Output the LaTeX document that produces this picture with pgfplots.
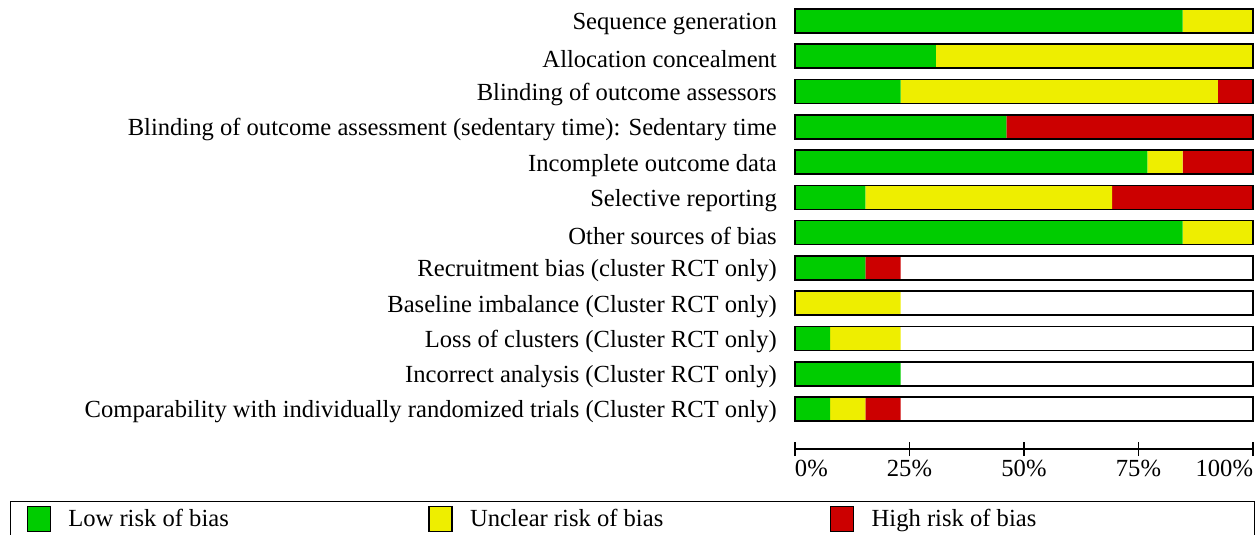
\documentclass[border=0pt]{standalone}
\usepackage{fontspec}
\setmainfont{Liberation Serif}
\usepackage{pgfplots}
\pgfplotsset{compat=1.18}
\definecolor{lowc}{HTML}{00CC00}
\definecolor{uncc}{HTML}{EEEE00}
\definecolor{highc}{HTML}{CC0000}
\newcommand{\lf}{\fontsize{24.6}{28}\selectfont}
\begin{document}
\begin{tikzpicture}
\path[use as bounding box] (-795pt,-86pt) rectangle (463pt,449pt);
\begin{axis}[
  at={(0pt,0pt)}, anchor=south west,
  x=4.58pt, y=35.27pt,
  xmin=0, xmax=100, ymin=-0.134, ymax=12.595,
  xbar stacked, bar width=24pt,
  axis x line=bottom, axis y line=left,
  axis line style={-},
  x axis line style={line width=1.3pt},
  y axis line style={draw=none},
  ytick style={draw=none},
  x tick style={line width=1.3pt, black},
  major tick length=14pt, tick align=center,
  xtick={0,25,50,75,100},
  xticklabels={\rlap{0\%},25\%,50\%,75\%,\llap{100\%}},
  ytick={1,2,3,4,5,6,7,8,9,10,11,12},
  yticklabels={
    Comparability with individually randomized trials (Cluster RCT only),
    Incorrect analysis (Cluster RCT only),
    Loss of clusters (Cluster RCT only),
    Baseline imbalance (Cluster RCT only),
    Recruitment bias (cluster RCT only),
    Other sources of bias,
    Selective reporting,
    Incomplete outcome data,
    {Blinding of outcome assessment (sedentary time): Sedentary time},
    Blinding of outcome assessors,
    Allocation concealment,
    Sequence generation},
  tick label style={font=\lf},
  yticklabel style={anchor=east, inner sep=0pt, xshift=-11pt, yshift=-3pt},
  xticklabel style={yshift=-1pt},
  legend columns=3,
  legend image code/.code={\draw[#1, draw=black, line width=1.2pt] (0pt,-12.5pt) rectangle (23pt,12.5pt);},
  legend style={at={(axis description cs:-1.714,-0.1158)}, anchor=north west,
    draw=black, line width=1.3pt, font=\lf,
    inner xsep=16pt, inner ysep=4pt,
    nodes={inner sep=0pt},
    /tikz/every odd column/.append style={column sep=17.5pt},
    /tikz/every even column/.append style={column sep=20.5pt}},
]
\addplot[fill=lowc, draw=none] coordinates {
 (7.69,1) (23.08,2) (7.69,3) (0,4) (15.38,5) (84.62,6) (15.38,7) (76.92,8) (46.15,9) (23.08,10) (30.77,11) (84.62,12)};
\addlegendentry{\makebox[339.5pt][l]{Low risk of bias}}
\addplot[fill=uncc, draw=none] coordinates {
 (7.69,1) (0,2) (15.38,3) (23.08,4) (0,5) (15.38,6) (53.85,7) (7.69,8) (0,9) (69.23,10) (69.23,11) (15.38,12)};
\addlegendentry{\makebox[339.5pt][l]{Unclear risk of bias}}
\addplot[fill=highc, draw=none] coordinates {
 (7.69,1) (0,2) (0,3) (0,4) (7.69,5) (0,6) (30.77,7) (15.38,8) (53.85,9) (7.69,10) (0,11) (0,12)};
\addlegendentry{\makebox[367pt][l]{High risk of bias}}
\end{axis}
\begin{axis}[
  at={(0pt,0pt)}, anchor=south west,
  x=4.58pt, y=35.27pt,
  xmin=0, xmax=100, ymin=-0.134, ymax=12.595,
  hide axis, clip=false,
  xbar, bar width=24pt,
]
\addplot[fill=none, draw=black, line width=1.6pt] coordinates {
 (100,1) (100,2) (100,3) (100,4) (100,5) (100,6) (100,7) (100,8) (100,9) (100,10) (100,11) (100,12)};
\end{axis}
\end{tikzpicture}
\end{document}
